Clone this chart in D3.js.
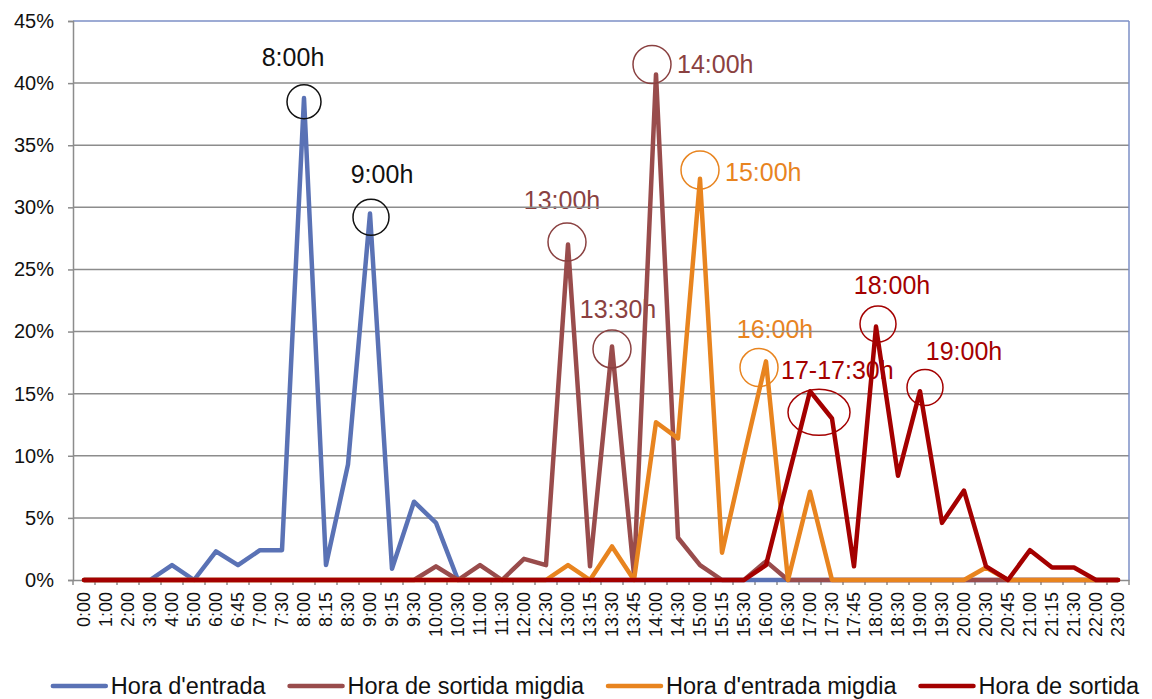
<!DOCTYPE html>
<html><head><meta charset="utf-8">
<script src="https://cdn.jsdelivr.net/npm/d3@7"></script>
<style>
html,body{margin:0;padding:0;background:#fff;}
svg{display:block;font-family:"Liberation Sans",Arial,sans-serif;}
</style></head>
<body><svg id="c" width="1152" height="699"></svg>
<script>
const categories = ["0:00","1:00","2:00","3:00","4:00","5:00","6:00","6:45","7:00","7:30","8:00","8:15","8:30","9:00","9:15","9:30","10:00","10:30","11:00","11:30","12:00","12:30","13:00","13:15","13:30","13:45","14:00","14:30","15:00","15:15","15:30","16:00","16:30","17:00","17:30","17:45","18:00","18:30","19:00","19:30","20:00","20:30","20:45","21:00","21:15","21:30","22:00","23:00"];

const horaEntrada =        [0,0,0,0,1.2,0,2.3,1.2,2.4,2.4,38.8,1.2,9.3,29.5,0.9,6.3,4.6,0,0,0,0,0,0,0,0,0,0,0,0,0,0,0,0,0,0,0,0,0,0,0,0,0,0,0,0,0,0,0];
const horaSortidaMigdia =  [0,0,0,0,0,0,0,0,0,0,0,0,0,0,0,0,1.1,0,1.2,0,1.7,1.2,27.0,1.1,18.8,0.4,40.7,3.4,1.2,0,0,1.5,0,0,0,0,0,0,0,0,0,0,0,0,0,0,0,0];
const horaEntradaMigdia =  [0,0,0,0,0,0,0,0,0,0,0,0,0,0,0,0,0,0,0,0,0,0,1.2,0,2.7,0,12.7,11.4,32.3,2.2,10.0,17.6,0,7.1,0,0,0,0,0,0,0,1.0,0,0,0,0,0,0];
const horaSortida =        [0,0,0,0,0,0,0,0,0,0,0,0,0,0,0,0,0,0,0,0,0,0,0,0,0,0,0,0,0,0,0,1.2,8.2,15.2,13.0,1.1,20.4,8.4,15.2,4.6,7.2,1.1,0,2.4,1.0,1.0,0,0];

const seriesNames = ["Hora d'entrada","Hora de sortida migdia","Hora d'entrada migdia","Hora de sortida"];
const yTicks = [0,5,10,15,20,25,30,35,40,45];

const annotationLabels = ["8:00h","9:00h","13:00h","13:30h","14:00h","15:00h","16:00h","17-17:30h","18:00h","19:00h"];
const annotationCats   = ["8:00","9:00","13:00","13:30","14:00","15:00","16:00","17:00","18:00","19:00"];
const annotationVals   = [38.5,29.2,27.2,18.6,41.5,33.0,17.1,13.5,20.6,15.5];

// styling
const colors = ["#5a72b5","#994c4c","#e8841f","#a40000"];
const annColors = ["#111","#111","#8a4141","#8a4141","#8a4141","#e8841f","#e8841f","#a40000","#a40000","#a40000"];
const annStyle = [
  {cx:0,  rx:17,ry:17,tx:-11,ty:-36,a:"middle"},
  {cx:1,  rx:18,ry:18,tx:11, ty:-34,a:"middle"},
  {cx:-1, rx:19,ry:19,tx:-5, ty:-33,a:"middle"},
  {cx:0,  rx:19,ry:19,tx:6,  ty:-31,a:"middle"},
  {cx:-4, rx:19,ry:19,tx:25, ty:9,  a:"start"},
  {cx:0,  rx:19,ry:19,tx:25, ty:11, a:"start"},
  {cx:-7, rx:19,ry:19,tx:16, ty:-30,a:"middle"},
  {cx:9,  rx:31,ry:23,tx:-38,ty:-33,a:"start"},
  {cx:2,  rx:18,ry:18,tx:14, ty:-30,a:"middle"},
  {cx:5,  rx:18,ry:18,tx:39, ty:-27,a:"middle"}
];

const svg = d3.select("#c");
const L=73, R=1129, T=21, B=580;
const x = d3.scaleBand().domain(categories).range([L,R]);
const y = d3.scaleLinear().domain([0,45]).range([B,T]);
const px = c => x(c) + x.bandwidth()/2;

// annotation text (under grid/lines)
const annG = svg.append("g");
annotationLabels.forEach((lab,i)=>{
  const s = annStyle[i];
  const cx = px(annotationCats[i]) + s.cx, cy = y(annotationVals[i]);
  annG.append("text").attr("x",cx+s.tx).attr("y",cy+s.ty).attr("text-anchor",s.a)
    .attr("font-size",25).attr("fill",annColors[i]).text(lab);
});

// gridlines
svg.append("g").selectAll("line").data(yTicks.filter(t=>t>0&&t<45)).join("line")
  .attr("x1",L).attr("x2",R).attr("y1",d=>y(d)).attr("y2",d=>y(d))
  .attr("stroke","#8c8c8c").attr("stroke-width",1.5);

// frame top & right
svg.append("line").attr("x1",L).attr("x2",R).attr("y1",T).attr("y2",T).attr("stroke","#7d8fc6").attr("stroke-width",1.5);
svg.append("line").attr("x1",R).attr("x2",R).attr("y1",T).attr("y2",B).attr("stroke","#7d8fc6").attr("stroke-width",1.5);

// y axis
const yAxis = d3.axisLeft(y).tickValues(yTicks).tickSize(5).tickFormat(d=>d+"%");
const gy = svg.append("g").attr("transform",`translate(${L},0)`).call(yAxis);
gy.select(".domain").attr("stroke","#8c8c8c").attr("stroke-width",1.5);
gy.selectAll(".tick line").attr("stroke","#8c8c8c").attr("stroke-width",1.5);
gy.selectAll(".tick text").attr("font-size",20).attr("fill","#111").attr("font-family","Liberation Sans, Arial, sans-serif").attr("x",-19);

// x axis
const xAxis = d3.axisBottom(x).tickSize(0);
const gx = svg.append("g").attr("transform",`translate(0,${B})`).call(xAxis);
gx.select(".domain").attr("stroke","#8c8c8c").attr("stroke-width",1.5);
gx.selectAll(".tick text").attr("font-size",18).attr("fill","#111").attr("font-family","Liberation Sans, Arial, sans-serif")
  .attr("transform","rotate(-90)").attr("text-anchor","end").attr("x",-12).attr("y",0).attr("dy","0.35em");
// boundary ticks
svg.append("g").selectAll("line").data(categories.concat(["__end"])).join("line")
  .attr("x1",(d,i)=>L+i*x.step()).attr("x2",(d,i)=>L+i*x.step())
  .attr("y1",B).attr("y2",B+5).attr("stroke","#8c8c8c").attr("stroke-width",1.5);

// series
const allSeries = [horaEntrada,horaSortidaMigdia,horaEntradaMigdia,horaSortida];
const line = d3.line().x((d,i)=>px(categories[i])).y(d=>y(d));
allSeries.forEach((s,k)=>{
  svg.append("path").datum(s).attr("d",line).attr("fill","none")
    .attr("stroke",colors[k]).attr("stroke-width",4.5).attr("stroke-linejoin","round").attr("stroke-linecap","round");
});

// annotation circles
annotationLabels.forEach((lab,i)=>{
  const s = annStyle[i];
  const cx = px(annotationCats[i]) + s.cx, cy = y(annotationVals[i]);
  svg.append("ellipse").attr("cx",cx).attr("cy",cy).attr("rx",s.rx).attr("ry",s.ry)
    .attr("fill","none").attr("stroke",annColors[i]).attr("stroke-width",1.5);
});

// legend
const lg = svg.append("g").attr("font-size",23.5);
const items = [];
let cur = 0;
seriesNames.forEach((n,k)=>{
  const g = lg.append("g");
  g.append("line").attr("x1",0).attr("x2",53).attr("y1",0).attr("y2",0).attr("stroke",colors[k]).attr("stroke-width",4.5).attr("stroke-linecap","round");
  const t = g.append("text").attr("x",58).attr("y",0).attr("dy","0.35em").attr("fill","#111").text(n);
  const w = 58 + t.node().getComputedTextLength();
  items.push({g,cur});
  cur += w + 24;
});
const total = cur - 24;
const start = 596 - total/2;
items.forEach(it=>it.g.attr("transform",`translate(${start+it.cur},686)`));
</script>
</body></html>
